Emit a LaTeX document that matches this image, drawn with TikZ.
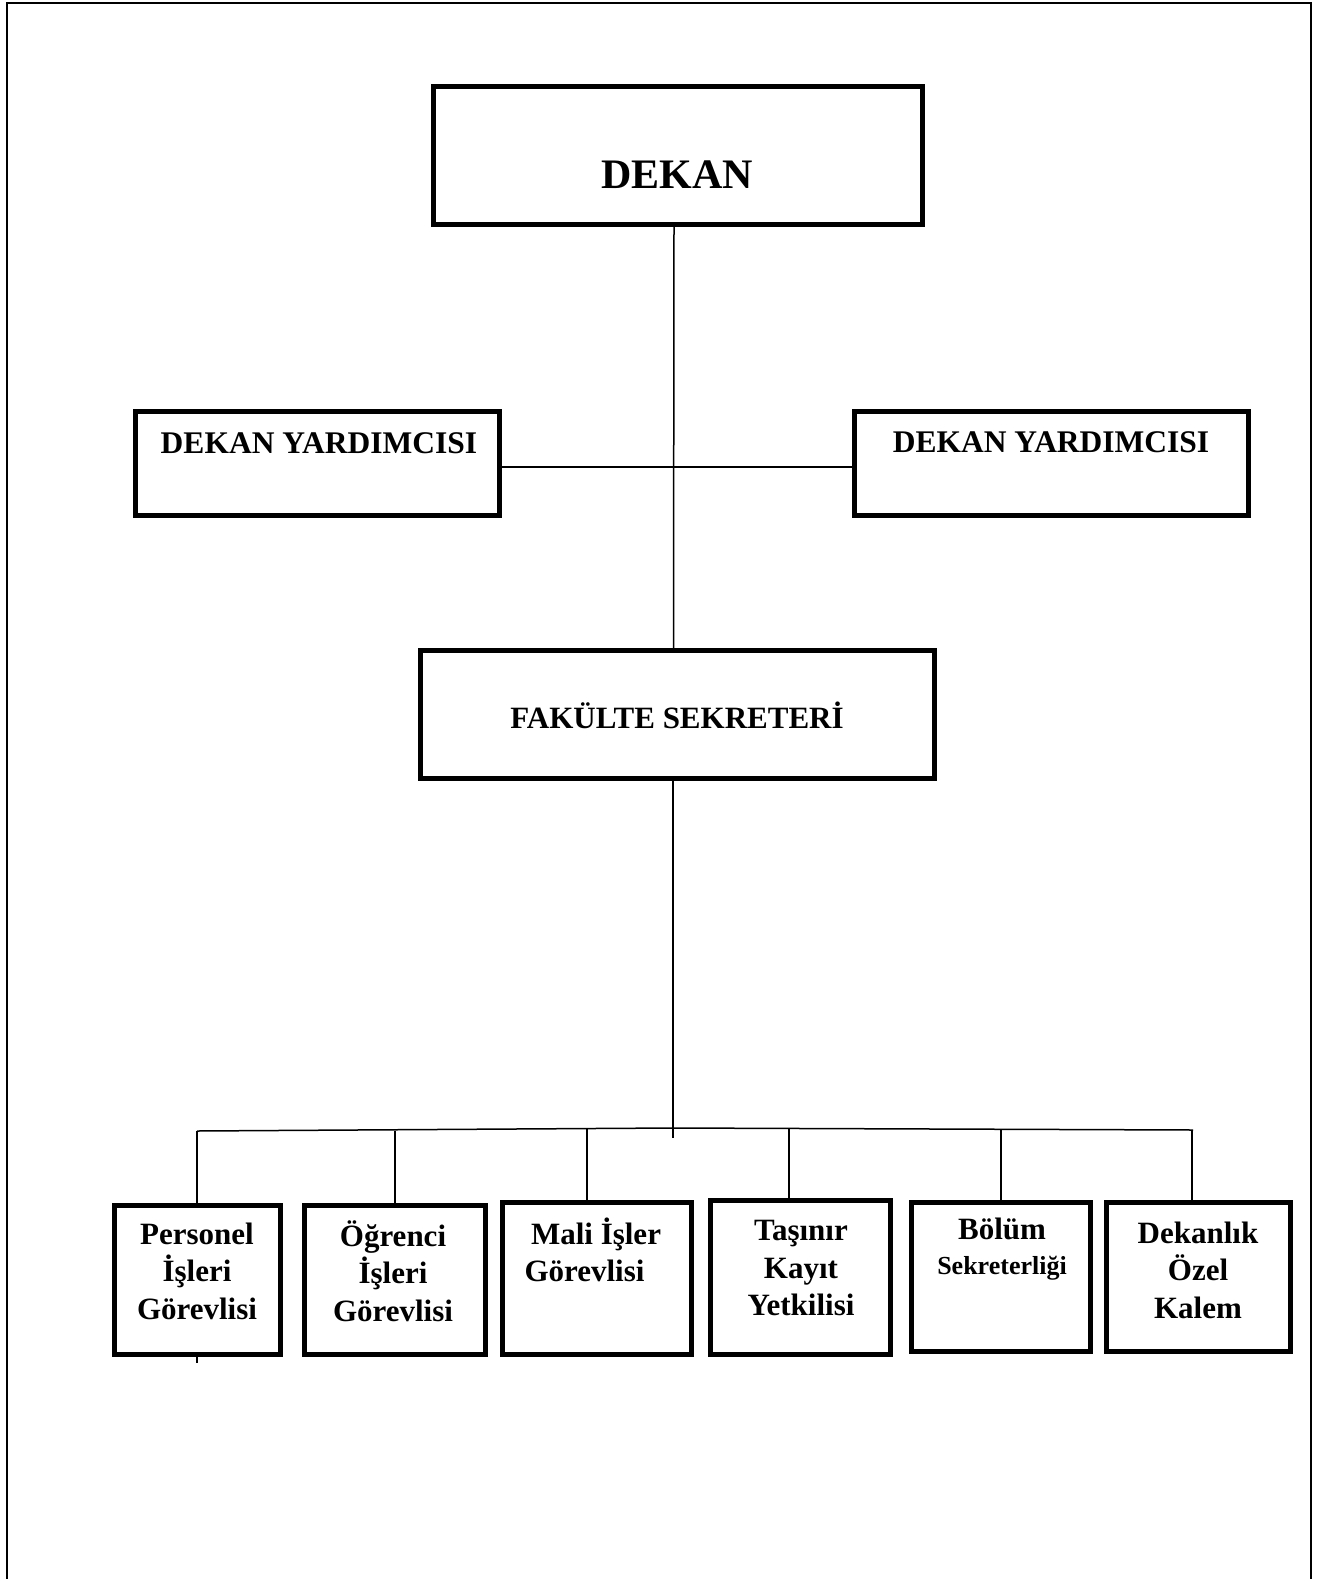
\documentclass[tikz,border=0pt]{standalone}
\usepackage{fontspec}
\setmainfont{Liberation Serif}
\begin{document}
\begin{tikzpicture}[x=1pt,y=-1pt,
  box/.style={draw,line width=5pt,inner sep=0pt},
  conn/.style={line width=1.5pt},
  txt/.style={inner sep=0pt,font=\bfseries},
  big/.style={txt,font=\bfseries\fontsize{42}{50}\selectfont},
  mid/.style={txt,font=\bfseries\fontsize{31.5}{37}\selectfont},
  low/.style={txt,align=center,font=\bfseries\fontsize{31}{37.5}\selectfont}]
\useasboundingbox (0,0) rectangle (1319,1579);
% outer frame
\draw[line width=2.8pt] (7,1600) -- (7,3) -- (1311,3) -- (1311,1600);
% boxes
\node[box,minimum width=489pt,minimum height=138pt] (dekan) at (678,155.5) {};
\node[box,minimum width=364pt,minimum height=104pt] (yl) at (317.5,463.5) {};
\node[box,minimum width=394pt,minimum height=104pt] (yr) at (1051.5,463.5) {};
\node[box,minimum width=514pt,minimum height=128pt] (fak) at (677.5,714.5) {};
\node[box,minimum width=166pt,minimum height=149pt] (b1) at (197.5,1280) {};
\node[box,minimum width=181pt,minimum height=149pt] (b2) at (395,1280) {};
\node[box,minimum width=189pt,minimum height=152pt] (b3) at (597,1278.5) {};
\node[box,minimum width=180pt,minimum height=154pt] (b4) at (800.5,1277.5) {};
\node[box,minimum width=179pt,minimum height=149pt] (b5) at (1001,1277) {};
\node[box,minimum width=184pt,minimum height=149pt] (b6) at (1198.5,1277) {};
% texts
\node[big,anchor=base] (tdekan) at (677,188) {DEKAN};
\node[mid,anchor=base] (tyl) at (319,453) {DEKAN YARDIMCISI};
\node[mid,anchor=base] (tyr) at (1051,452) {DEKAN YARDIMCISI};
\node[mid,anchor=base,font=\bfseries\fontsize{31}{37}\selectfont] (tfak) at (677,728) {FAKÜLTE SEKRETERİ};
\node[low] (t1) at (197,1271) {Personel\\İşleri\\Görevlisi};
\node[low] (t2) at (393,1271) {Öğrenci\\İşleri\\Görevlisi};
\node[low] (t3) at (596,1250) {Mali İşler\\Görevlisi\hspace*{23pt}};
\node[low] (t4) at (801,1268) {Taşınır\\Kayıt\\Yetkilisi};
\node[low] (t5) at (1002,1249) {Bölüm\\[-3pt]{\fontsize{26}{30}\selectfont Sekreterliği}};
\node[low] (t6) at (1198,1270) {Dekanlık\\Özel\\Kalem};
% connectors
\draw[conn] ([xshift=-4pt]dekan.south) -- ([xshift=-4pt]fak.north);
\draw[conn] ([yshift=-3.5pt]yl.east) -- ([yshift=-3.5pt]yr.west);
\coordinate (busEnd) at (673,1138);
\coordinate (busL) at (197,1131);
\coordinate (busM) at (673,1128);
\coordinate (busR) at (1193,1130);
\draw[conn] ([xshift=-4.5pt]fak.south) -- (busEnd);
\draw[conn] (busL) -- (busM) -- (busR);
\path ([xshift=-0.5pt]b1.north) coordinate (d1)
      (b2.north) coordinate (d2)
      ([xshift=-10pt]b3.north) coordinate (d3)
      ([xshift=-11.5pt]b4.north) coordinate (d4)
      (b5.north) coordinate (d5)
      ([xshift=-6.5pt]b6.north) coordinate (d6);
\draw[conn] (d1) -- (d1 |- busL);
\draw[conn] (d2) -- (d2 |- busL);
\draw[conn] (d3) -- (d3 |- busM);
\draw[conn] (d4) -- (d4 |- busM);
\draw[conn] (d5) -- (d5 |- busR);
\draw[conn] (d6) -- (d6 |- busR);
\coordinate (tick) at (197,1363);
\draw[conn] ([xshift=-0.5pt]b1.south) -- (tick);
\end{tikzpicture}
\end{document}
